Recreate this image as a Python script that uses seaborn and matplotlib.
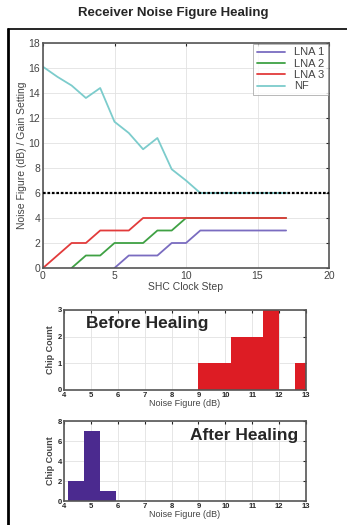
import numpy as np
import pandas as pd
import seaborn as sns
import matplotlib.pyplot as plt
from matplotlib.lines import Line2D

# 数据
steps = list(range(18))
nf = [16.1, 15.3, 14.6, 13.6, 14.4, 11.7, 10.8, 9.5, 10.4, 7.9, 7.0, 6.0,
      6.0, 6.0, 6.0, 6.0, 6.0, 6.0]
lna3 = [0, 1, 2, 2, 3, 3, 3, 4, 4, 4, 4, 4, 4, 4, 4, 4, 4, 4]
lna2 = [np.nan, np.nan, 0, 1, 1, 2, 2, 2, 3, 3, 4, 4, 4, 4, 4, 4, 4, 4]
lna1 = [np.nan] * 5 + [0, 1, 1, 1, 2, 2, 3, 3, 3, 3, 3, 3, 3]
nf_target = 6

before_edges = [9.0, 9.6, 10.2, 10.8, 11.4, 12.0, 12.6, 13.2]
before_counts = [1, 1, 2, 2, 3, 0, 1]
after_edges = [4.15, 4.75, 5.35, 5.95]
after_counts = [2, 7, 1]

sns.set_style("white")
plt.rcParams['font.family'] = ['Liberation Sans', 'DejaVu Sans']

fig = plt.figure(figsize=(3.47, 5.25), dpi=100)
W, H = 347, 525

def box(x0, y0, x1, y1):
    # 像素坐标 -> figure坐标
    return [x0 / W, 1 - y1 / H, (x1 - x0) / W, (y1 - y0) / H]

fig.text(0.5, 1 - 13 / H, "Receiver Noise Figure Healing", ha="center", va="center",
         fontsize=9.5, fontweight="bold")
# 外框
fig.add_artist(Line2D([8 / W, 1], [1 - 29 / H, 1 - 29 / H], color="black", lw=1.2))
fig.add_artist(Line2D([8 / W, 8 / W], [0, 1 - 29 / H], color="black", lw=2))

grid_kw = dict(color="#e2e2e2", lw=0.6)

# 1. 主图
ax = fig.add_axes(box(43, 43, 329, 268))
df = pd.DataFrame({"step": steps, "LNA 1": lna1, "LNA 2": lna2, "LNA 3": lna3, "NF": nf})
colors = {"LNA 1": "#7a6cc0", "LNA 2": "#3fa144", "LNA 3": "#e23b3b", "NF": "#7ccccc"}
for name in ["LNA 1", "LNA 2", "LNA 3", "NF"]:
    sns.lineplot(data=df, x="step", y=name, ax=ax, color=colors[name], lw=1.3, label=name)
ax.axhline(nf_target, color="black", ls=(0, (1.2, 0.8)), lw=1.6, zorder=5)
ax.set_xlim(0, 20)
ax.set_ylim(0, 18)
ax.set_xticks([0, 5, 10, 15, 20])
ax.set_yticks(range(0, 19, 2))
ax.grid(True, **grid_kw)
ax.tick_params(direction="in", length=2, labelsize=7.5, labelcolor="#444444", pad=2,
               top=True, right=True)
ax.set_xlabel("SHC Clock Step", fontsize=7.5, color="#444444", labelpad=1)
ax.set_ylabel("Noise Figure (dB) / Gain Setting", fontsize=7.5, color="#444444", labelpad=1)
for s in ax.spines.values():
    s.set_color("#555555")
    s.set_linewidth(1.2)
leg = ax.legend(loc="upper right", fontsize=8, frameon=True, fancybox=False,
                borderpad=0.3, labelspacing=0.12, handlelength=2.6, borderaxespad=0.1)
leg.get_frame().set_edgecolor("#999999")
leg.get_frame().set_linewidth(0.6)
for t in leg.get_texts():
    t.set_color("#444444")


def hist_panel(rect, edges, counts, color, ylim, yticks, label, lx, ly, ha):
    a = fig.add_axes(rect)
    centers = [(edges[i] + edges[i + 1]) / 2 for i in range(len(counts))]
    sns.histplot(x=centers, weights=counts, bins=edges, ax=a, color=color,
                 alpha=1, edgecolor=color, linewidth=0)
    a.set_xlim(4, 13)
    a.set_ylim(*ylim)
    a.set_xticks(range(4, 14))
    a.set_yticks(yticks)
    a.grid(True, **grid_kw)
    a.set_axisbelow(True)
    a.tick_params(direction="in", length=2, labelsize=5.5, pad=1.5, top=True, right=True)
    for t in a.get_xticklabels() + a.get_yticklabels():
        t.set_fontweight("bold")
    a.set_xlabel("Noise Figure (dB)", fontsize=6.5, color="#444444", labelpad=0)
    a.set_ylabel("Chip Count", fontsize=6.5, fontweight="bold", color="#444444", labelpad=2)
    for s in a.spines.values():
        s.set_color("#555555")
        s.set_linewidth(1.2)
    a.text(lx, ly, label, transform=a.transAxes, fontsize=12.5, fontweight="bold",
           ha=ha, va="center")
    return a


hist_panel(box(64, 310, 306, 390), before_edges, before_counts, "#dd1c24",
           (0, 3), [0, 1, 2, 3], "Before Healing", 0.09, 0.83, "left")
hist_panel(box(64, 421, 306, 501), after_edges, after_counts, "#4b2a8f",
           (0, 8), [0, 2, 4, 6, 8], "After Healing", 0.97, 0.82, "right")

fig.savefig("out.png", dpi=100)
